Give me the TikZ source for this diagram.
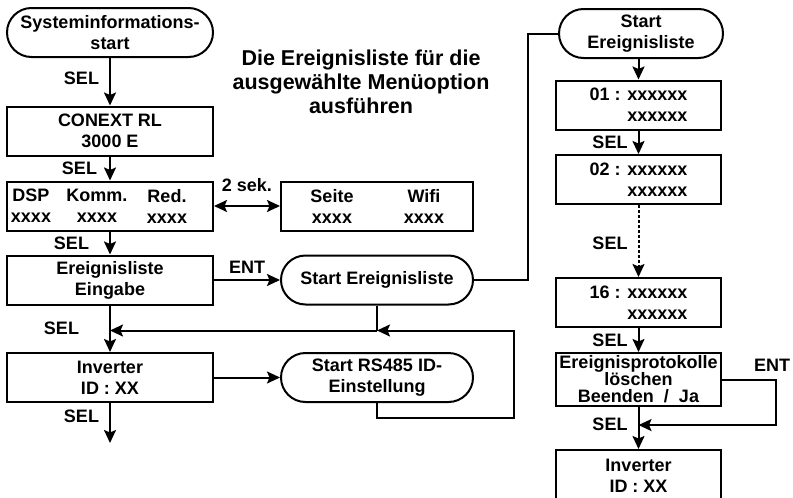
\documentclass[tikz,border=0pt]{standalone}
\usepackage{fontspec}
\setmainfont{Liberation Sans}
\usetikzlibrary{arrows.meta,shapes.misc,calc}

\begin{document}
\begin{tikzpicture}[x=1pt,y=-1pt,line width=2pt,
  txt/.style={font=\fontsize{18}{21}\selectfont\bfseries, inner sep=0pt, align=center},
  lbl/.style={txt, anchor=east},
  box/.style={txt, draw, rectangle, minimum width=206pt, minimum height=49pt},
  stad/.style={txt, draw, rounded rectangle, minimum width=206pt, minimum height=49pt},
  arr/.style={-{Stealth[length=13pt,width=12pt,inset=2.5pt]}},
  dbl/.style={{Stealth[length=13pt,width=12pt,inset=2.5pt]}-{Stealth[length=13pt,width=12pt,inset=2.5pt]}}]
\useasboundingbox (0,0) rectangle (793,498);

\node[stad] (sysstart) at (110,32.5) {Systeminformations-\\start};
\node[box] (conext) at (110,131) {CONEXT RL\\3000 E};
\node[box] (dsp) at (110,206) {};
\node[txt] (dspA) at (31,206) {DSP\\xxxx};
\node[txt] (dspB) at (97,206) {Komm.\\xxxx};
\node[txt] (dspC) at (167,206) {Red.\\xxxx};
\node[box, minimum width=192pt] (seite) at (377,206) {};
\node[txt] (seiteA) at (332,206) {Seite\\xxxx};
\node[txt] (seiteB) at (424,206) {Wifi\\xxxx};
\node[box] (eingabe) at (110,280) {Ereignisliste\\Eingabe};
\node[stad, minimum width=192pt] (startlist) at (377,280) {Start Ereignisliste};
\node[box] (invL) at (110,377.5) {Inverter\\ID : XX};
\node[stad, minimum width=192pt] (rs485) at (377,377.5) {Start RS485 ID-\\Einstellung};
\coordinate (endL) at (110,443);
\node[txt, font=\fontsize{21.5}{24}\selectfont\bfseries] (title) at (361,82)
  {Die Ereignisliste für die\\ausgewählte Menüoption\\ausführen};

\node[stad, minimum width=164pt] (startR) at (641,33.5) {Start\\Ereignisliste};
\node[box, minimum width=165pt, align=right] (ev01) at (638.5,105) {01 : xxxxxx\\xxxxxx};
\node[box, minimum width=165pt, align=right] (ev02) at (638.5,179.5) {02 : xxxxxx\\xxxxxx};
\node[box, minimum width=165pt, align=right] (ev16) at (638.5,302.5) {16 : xxxxxx\\xxxxxx};
\node[box, minimum width=165pt, minimum height=53pt, font=\fontsize{18}{17}\selectfont\bfseries] (clear) at (638.5,379.5)
  {Ereignisprotokolle\\löschen\\Beenden~~/~~Ja};
\node[box, minimum width=165pt, minimum height=52pt] (invR) at (638.5,476) {Inverter\\ID : XX};
\node[txt] (entR) at (772,365) {ENT};
\coordinate (jnR) at ($(clear.south)!0.43!(invR.north)$);

\draw[arr] (sysstart) -- node[lbl, pos=0.42, xshift=-10pt] {SEL} (conext);
\draw[arr] (conext) -- node[lbl, xshift=-12pt] {SEL} (dsp);
\draw[dbl] (dsp) -- node[txt, yshift=21pt] {2 sek.} (seite);
\draw[arr] (dsp) -- node[lbl, xshift=-20pt] {SEL} (eingabe);
\draw[arr] (eingabe) -- node[txt, yshift=13pt] {ENT} (startlist);
\draw[arr] (eingabe) -- node[lbl, xshift=-30pt] {SEL} (invL);
\draw (startlist.south) -- ++(0,25) coordinate (jn);
\draw[arr] (jn) -- (jn -| invL.north);
\draw[arr] (invL) -- (rs485);
\draw[arr] (rs485.south) -- ++(0,15) -| ([xshift=137pt]jn) -- (jn);
\draw[arr] (invL) -- node[lbl, pos=0.32, xshift=-10pt] {SEL} (endL);
\draw (startlist.east) -- ++(54,0) |- (startR.west);

\draw[arr] (ev01.north |- startR.south) -- (ev01.north);
\draw[arr] (ev01) -- node[lbl, xshift=-10pt] {SEL} (ev02);
\draw[arr, dash pattern=on 3pt off 2pt] (ev02) -- node[lbl, pos=0.53, xshift=-10pt] {SEL} (ev16);
\draw[arr] (ev16) -- node[lbl, xshift=-10pt] {SEL} (clear);
\draw[arr] (clear) -- node[lbl, pos=0.42, xshift=-10pt] {SEL} (invR);
\draw[arr] (clear.east) -- ++(54,0) |- (jnR);
\end{tikzpicture}
\end{document}
